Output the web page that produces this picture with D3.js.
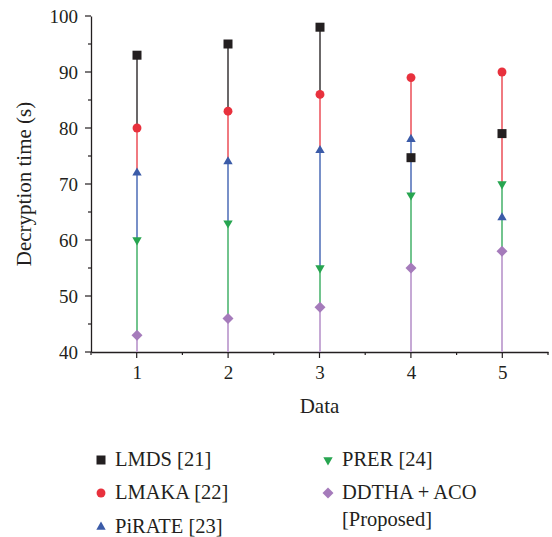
<!DOCTYPE html>
<html>
<head>
<meta charset="utf-8">
<script src="https://cdn.jsdelivr.net/npm/d3@7"></script>
<style>
  body { margin: 0; background: #fff; }
  svg text { font-family: "Liberation Serif", "DejaVu Serif", serif; fill: #231f20; }
</style>
</head>
<body>
<svg id="chart" width="552" height="537"></svg>
<script>
// data
const categories = [1, 2, 3, 4, 5]
const lmds   = [93, 95, 98, 74.7, 79]
const lmaka  = [80, 83, 86, 89, 90]
const pirate = [72, 74, 76, 78, 64]
const prer   = [60, 63, 55, 68, 70]
const ddtha  = [43, 46, 48, 55, 58]
const yTicks = [40, 50, 60, 70, 80, 90, 100]

const series = [
  {name: "LMDS [21]", values: lmds, color: "#231f20", stem: "#6b6869", shape: "square", size: 81},
  {name: "LMAKA [22]", values: lmaka, color: "#e8313d", stem: "#f07a81", shape: "circle", size: 62},
  {name: "PiRATE [23]", values: pirate, color: "#3b5ba8", stem: "#7890c8", shape: "up", size: 38},
  {name: "PRER [24]", values: prer, color: "#27a550", stem: "#72c48e", shape: "down", size: 38},
  {name: "DDTHA + ACO|[Proposed]", values: ddtha, color: "#a57bbb", stem: "#c6a9d5", shape: "diamond", size: 60}
]

const svg = d3.select("#chart")
const pLeft = 91, pRight = 548, pTop = 16, pBottom = 352

const x = d3.scaleLinear().domain([0.5, 5.5]).range([pLeft, pRight])
const y = d3.scaleLinear().domain([40, 100]).range([pBottom, pTop])
const px = c => Math.round(x(c))

const types = {square: d3.symbolSquare, circle: d3.symbolCircle, up: d3.symbolTriangle,
  down: d3.symbolTriangle, diamond: d3.symbolSquare}
const turn = {down: " rotate(180)", diamond: " rotate(45)"}

function marker(s) {
  return d3.symbol().type(types[s.shape]).size(s.size)()
}

// minor ticks
const minorX = d3.range(0.5, 5.51, 0.5)
const minorY = d3.range(40, 100.1, 5)

svg.append("g").selectAll("line").data(minorX).join("line")
  .attr("x1", d => x(d)).attr("x2", d => x(d))
  .attr("y1", pBottom).attr("y2", d => pBottom + (Number.isInteger(d) ? 6 : 3))
  .attr("stroke", "#231f20").attr("stroke-width", 1.2)

svg.append("g").selectAll("line").data(minorY).join("line")
  .attr("x1", pLeft).attr("x2", d => pLeft - (d % 10 === 0 ? 6 : 3))
  .attr("y1", d => y(d)).attr("y2", d => y(d))
  .attr("stroke", "#231f20").attr("stroke-width", 1.2)

// axes
const xAxis = svg.append("g")
  .attr("transform", `translate(0,${pBottom})`)
  .call(d3.axisBottom(x).tickValues(categories).tickSize(0).tickPadding(14).tickFormat(d3.format("d")))
const yAxis = svg.append("g")
  .attr("transform", `translate(${pLeft},0)`)
  .call(d3.axisLeft(y).tickValues(yTicks).tickSize(0).tickPadding(13))

for (const ax of [xAxis, yAxis]) {
  ax.select(".domain").attr("stroke", "#231f20").attr("stroke-width", 1.3)
  ax.selectAll("text").attr("font-size", 19).attr("fill", "#231f20")
    .style("font-family", '"Liberation Serif", serif')
}

svg.append("text")
  .attr("x", (pLeft + pRight) / 2).attr("y", 413)
  .attr("text-anchor", "middle").attr("font-size", 21)
  .text("Data")

svg.append("text")
  .attr("transform", `translate(31,${(pTop + pBottom) / 2}) rotate(-90)`)
  .attr("text-anchor", "middle").attr("font-size", 21)
  .text("Decryption time (s)")

// stems, drawn series by series so later ones sit on top
series.forEach(s => {
  svg.append("g").selectAll("line").data(s.values).join("line")
    .attr("x1", (d, i) => px(categories[i])).attr("x2", (d, i) => px(categories[i]))
    .attr("y1", d => y(d)).attr("y2", pBottom)
    .attr("stroke", s.stem).attr("stroke-width", 2)
})

// markers
series.forEach(s => {
  svg.append("g").selectAll("path").data(s.values).join("path")
    .attr("d", marker(s))
    .attr("transform", (d, i) => `translate(${px(categories[i])},${y(d)})` + (turn[s.shape] || ""))
    .attr("fill", s.color)
})

// legend
const legendPos = [
  {mx: 101, ty: 466}, {mx: 101, ty: 499}, {mx: 101, ty: 533},
  {mx: 328, ty: 466}, {mx: 328, ty: 499}
]
series.forEach((s, i) => {
  const p = legendPos[i]
  const g = svg.append("g")
  g.append("path").attr("d", marker(s))
    .attr("transform", `translate(${p.mx},${p.ty - 6})` + (turn[s.shape] || ""))
    .attr("fill", s.color)
  const lines = s.name.split("|")
  lines.forEach((t, k) => {
    g.append("text").attr("x", p.mx + 14).attr("y", p.ty + k * 27)
      .attr("font-size", 20.5).text(t)
  })
})
</script>
</body>
</html>
